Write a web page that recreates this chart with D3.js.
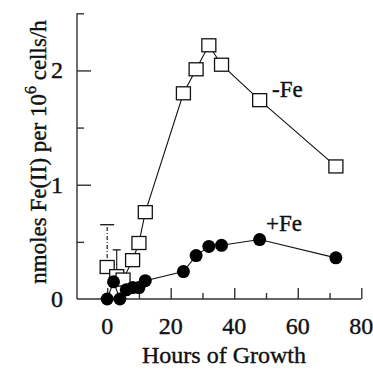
<!DOCTYPE html>
<html><head><meta charset="utf-8">
<script src="https://cdn.jsdelivr.net/npm/d3@7"></script>
<style>
html,body{margin:0;padding:0;background:#fff;}
</style></head>
<body>
<svg id="c" width="373" height="373"></svg>
<script>
// ---- data ----
const hoursMinusFe = [0, 3, 5, 8, 10, 12, 24, 28, 32, 36, 48, 72];
const valuesMinusFe = [0.28, 0.20, 0.17, 0.34, 0.49, 0.76, 1.80, 2.01, 2.22, 2.05, 1.74, 1.16];
const errUpperMinusFe = [0.65, 0.43, null, null, null, null, null, null, null, null, null, null];
const hoursPlusFe = [0, 2, 4, 6, 8, 10, 12, 24, 28, 32, 36, 48, 72];
const valuesPlusFe = [0, 0.15, 0, 0.08, 0.10, 0.10, 0.16, 0.24, 0.38, 0.46, 0.47, 0.52, 0.36];
const xMajorTicks = [0, 20, 40, 60, 80];
const xMinorTicks = [10, 30, 50, 70];
const yMajorTicks = [0, 1, 2];
const yMinorTicks = [0.5, 1.5, 2.5];
const seriesLabels = ["-Fe", "+Fe"];

const svg = d3.select("#c");
const x = d3.scaleLinear().domain([-9.5, 80]).range([77, 361.3]);
const y = d3.scaleLinear().domain([0, 2.5]).range([299, 13.3]);

const axisColor = "#333";
svg.append("line").attr("x1", x(-9.5)).attr("x2", x(80)).attr("y1", y(0)).attr("y2", y(0))
  .attr("stroke", axisColor).attr("stroke-width", 1.4);
svg.append("line").attr("x1", x(-9.5)).attr("x2", x(-9.5)).attr("y1", y(0)).attr("y2", y(2.5))
  .attr("stroke", axisColor).attr("stroke-width", 1.4);

const xAxisMajor = d3.axisTop(x).tickValues(xMajorTicks).tickSize(11).tickFormat("");
const xAxisMinor = d3.axisTop(x).tickValues(xMinorTicks).tickSize(6).tickFormat("");
[xAxisMajor, xAxisMinor].forEach(a => {
  const g = svg.append("g").attr("transform", `translate(0,${y(0)})`).call(a);
  g.select(".domain").remove();
  g.selectAll("line").attr("stroke", axisColor).attr("stroke-width", 1.4);
});
const yAxisMajor = d3.axisRight(y).tickValues(yMajorTicks.filter(v => v > 0)).tickSize(14).tickFormat("");
const yAxisMinor = d3.axisRight(y).tickValues(yMinorTicks).tickSize(7).tickFormat("");
[yAxisMajor, yAxisMinor].forEach(a => {
  const g = svg.append("g").attr("transform", `translate(${x(-9.5)},0)`).call(a);
  g.select(".domain").remove();
  g.selectAll("line").attr("stroke", axisColor).attr("stroke-width", 1.4);
});

function txt(sel) {
  return sel.style("font-family", '"Liberation Serif"').attr("fill", "#111")
    .attr("stroke", "#111").attr("stroke-width", 0.4);
}

txt(svg.selectAll(".xl").data(xMajorTicks).enter().append("text"))
  .attr("x", d => x(d)).attr("y", 334).attr("text-anchor", "middle")
  .attr("font-size", 24).text(d => d);
txt(svg.selectAll(".yl").data(yMajorTicks).enter().append("text"))
  .attr("x", 63).attr("y", d => y(d) + 8).attr("text-anchor", "end")
  .attr("font-size", 24).text(d => d);

txt(svg.append("text")).attr("x", 224).attr("y", 363).attr("text-anchor", "middle")
  .attr("font-size", 24).text("Hours of Growth");
const yt = txt(svg.append("text")).attr("transform", "translate(46,152) rotate(-90)")
  .attr("text-anchor", "middle").attr("font-size", 23);
yt.append("tspan").text("nmoles Fe(II) per 10");
yt.append("tspan").attr("dy", -10).attr("font-size", 16).text("6");
yt.append("tspan").attr("dy", 10).text(" cells/h");

const errData = hoursMinusFe.map((h, i) => ({h, v: valuesMinusFe[i], e: errUpperMinusFe[i]})).filter(d => d.e != null);
errData.forEach((d, i) => {
  svg.append("line").attr("x1", x(d.h)).attr("x2", x(d.h)).attr("y1", y(d.v)).attr("y2", y(d.e))
    .attr("stroke", "#222").attr("stroke-width", 1.2).attr("stroke-dasharray", i === 0 ? "4,2,1,2" : null);
  const cw = i === 0 ? 7 : 4;
  svg.append("line").attr("x1", x(d.h) - cw).attr("x2", x(d.h) + cw).attr("y1", y(d.e)).attr("y2", y(d.e))
    .attr("stroke", "#222").attr("stroke-width", 1.4);
});

const line = d3.line().x(d => x(d[0])).y(d => y(d[1]));
const minus = hoursMinusFe.map((h, i) => [h, valuesMinusFe[i]]);
const plus = hoursPlusFe.map((h, i) => [h, valuesPlusFe[i]]);

svg.append("path").attr("d", line(minus)).attr("fill", "none").attr("stroke", "#111").attr("stroke-width", 1.1);
svg.selectAll(".sq").data(minus).enter().append("rect")
  .attr("x", d => x(d[0]) - 7).attr("y", d => y(d[1]) - 6.5).attr("width", 14).attr("height", 13)
  .attr("fill", "#fff").attr("stroke", "#111").attr("stroke-width", 1.3);

svg.append("path").attr("d", line(plus)).attr("fill", "none").attr("stroke", "#111").attr("stroke-width", 1.1);
svg.selectAll(".ci").data(plus).enter().append("circle")
  .attr("cx", d => x(d[0])).attr("cy", d => y(d[1])).attr("r", 6.5).attr("fill", "#000");

txt(svg.append("text")).attr("x", 272).attr("y", 97).attr("font-size", 23).text(seriesLabels[0]);
txt(svg.append("text")).attr("x", 266).attr("y", 231).attr("font-size", 23).text(seriesLabels[1]);
</script>
</body></html>
